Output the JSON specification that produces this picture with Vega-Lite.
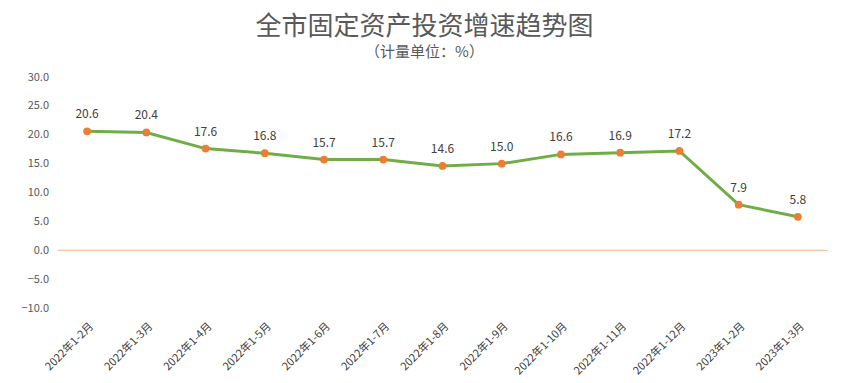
{
  "$schema": "https://vega.github.io/schema/vega-lite/v6.json",
  "width": 770,
  "height": 231,
  "autosize": {"type": "none"},
  "padding": {"left": 57.5, "top": 77, "right": 21.5, "bottom": 75},
  "background": "white",
  "title": {
    "text": "全市固定资产投资增速趋势图",
    "subtitle": "（计量单位：%）",
    "anchor": "middle",
    "dx": -18,
    "offset": 11,
    "font": "Noto Sans CJK SC",
    "fontSize": 26,
    "fontWeight": "normal",
    "color": "#595959",
    "subtitleFont": "Noto Sans CJK SC",
    "subtitleFontSize": 15,
    "subtitleColor": "#595959",
    "subtitlePadding": 5
  },
  "data": {
    "values": [
      {"month": "2022年1-2月", "value": 20.6},
      {"month": "2022年1-3月", "value": 20.4},
      {"month": "2022年1-4月", "value": 17.6},
      {"month": "2022年1-5月", "value": 16.8},
      {"month": "2022年1-6月", "value": 15.7},
      {"month": "2022年1-7月", "value": 15.7},
      {"month": "2022年1-8月", "value": 14.6},
      {"month": "2022年1-9月", "value": 15.0},
      {"month": "2022年1-10月", "value": 16.6},
      {"month": "2022年1-11月", "value": 16.9},
      {"month": "2022年1-12月", "value": 17.2},
      {"month": "2023年1-2月", "value": 7.9},
      {"month": "2023年1-3月", "value": 5.8}
    ]
  },
  "encoding": {
    "x": {
      "field": "month",
      "type": "nominal",
      "sort": null,
      "scale": {"type": "point", "padding": 0.5},
      "axis": {
        "title": null,
        "labelAngle": -45,
        "labelPadding": 12,
        "labelFont": "Noto Sans CJK SC",
        "labelFontSize": 11,
        "labelColor": "#404040",
        "domain": false,
        "ticks": false,
        "grid": false
      }
    },
    "y": {
      "field": "value",
      "type": "quantitative",
      "scale": {"domain": [-10, 30], "nice": false, "zero": false},
      "axis": {
        "title": null,
        "values": [-10, -5, 0, 5, 10, 15, 20, 25, 30],
        "format": ".1f",
        "labelPadding": 9,
        "labelFont": "Noto Sans CJK SC",
        "labelFontSize": 11,
        "labelColor": "#595959",
        "domain": false,
        "ticks": false,
        "grid": false
      }
    }
  },
  "layer": [
    {
      "data": {"values": [{"zero": 0}]},
      "mark": {"type": "rule", "color": "#F4B183", "strokeWidth": 1},
      "encoding": {"x": null, "y": {"field": "zero", "type": "quantitative"}}
    },
    {
      "mark": {"type": "line", "color": "#70AD47", "strokeWidth": 3}
    },
    {
      "mark": {"type": "point", "filled": true, "color": "#ED7D31", "size": 60, "opacity": 1}
    },
    {
      "mark": {"type": "text", "dy": -17, "font": "Noto Sans CJK SC", "fontSize": 12, "color": "#404040"},
      "encoding": {"text": {"field": "value", "type": "quantitative", "format": ".1f"}}
    }
  ],
  "config": {"view": {"stroke": null}}
}
